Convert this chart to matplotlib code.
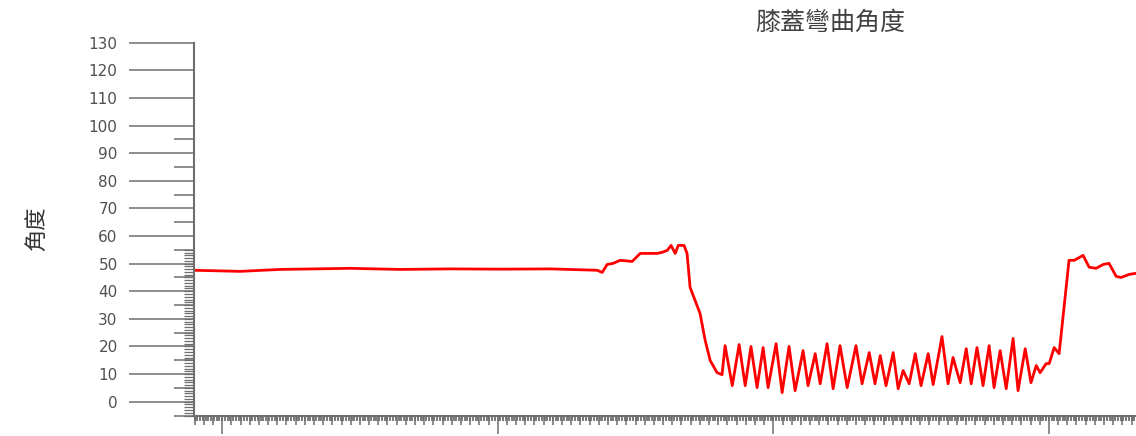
import matplotlib
matplotlib.use("Agg")
import matplotlib.pyplot as plt
from matplotlib.ticker import MultipleLocator, FixedLocator, NullFormatter

# knee angle trace: frame index vs. angle in degrees
frames = [89.8, 106.5, 121.0, 146.4, 164.6, 182.7, 200.9, 219.0, 236.1, 237.9,
          239.7, 241.9, 244.4, 248.8, 251.7, 254.2, 257.8, 259.7, 261.5, 262.9,
          264.4, 265.5, 267.6, 268.7, 269.8, 271.6, 273.4, 275.3, 277.1, 279.6,
          281.4, 282.5, 285.1, 287.6, 289.8, 291.9, 294.1, 296.3, 298.1, 301.0,
          303.2, 305.7, 307.9, 310.8, 312.6, 315.2, 317.0, 319.5, 321.7, 324.2,
          326.8, 330.0, 332.2, 334.8, 336.9, 338.8, 340.9, 343.5, 345.3, 347.1,
          349.3, 351.5, 353.6, 356.2, 358.0, 361.2, 363.4, 365.2, 367.8, 370.0,
          371.8, 373.9, 376.1, 378.3, 380.1, 382.3, 384.5, 387.0, 388.8, 391.4,
          393.5, 395.4, 396.8, 399.0, 400.1, 401.9, 403.7, 407.3, 409.2, 412.4,
          414.6, 417.1, 419.7, 421.8, 424.4, 426.2, 429.1, 431.6]
angles = [47.6, 47.2, 47.9, 48.3, 47.9, 48.1, 48.0, 48.1, 47.6, 46.8,
          49.7, 50.1, 51.2, 50.8, 53.7, 53.7, 53.7, 54.1, 54.8, 56.6,
          53.7, 56.6, 56.6, 53.7, 41.4, 36.7, 32.0, 22.1, 14.9, 10.5,
          9.8, 20.3, 5.8, 20.7, 5.8, 20.0, 5.1, 19.6, 5.1, 21.0,
          3.3, 20.0, 4.0, 18.5, 5.8, 17.4, 6.5, 21.0, 4.7, 20.3,
          5.1, 20.3, 6.5, 17.8, 6.5, 16.7, 5.8, 17.8, 4.7, 11.3,
          6.5, 17.4, 5.8, 17.4, 6.2, 23.6, 6.5, 16.0, 6.9, 19.2,
          6.5, 19.6, 5.8, 20.3, 5.1, 18.5, 4.7, 22.9, 4.0, 19.2,
          6.9, 13.1, 10.5, 13.8, 13.8, 19.6, 17.4, 51.2, 51.2, 53.0,
          48.7, 48.3, 49.7, 50.1, 45.4, 45.0, 46.1, 46.5]

title = "膝蓋彎曲角度"
ylabel = "角度"

cjk = ["Noto Sans CJK TC", "DejaVu Sans"]
axis_grey = "#6e6e6e"
label_grey = "#505050"

fig = plt.figure(figsize=(11.36, 4.36), dpi=100)
ax = fig.add_axes([0.1708, 0.047, 0.8292, 0.855])

ax.plot(frames, angles, color="#ff0000", lw=2.0, solid_joinstyle="round")

ax.set_xlim(89.8, 431.6)
ax.set_ylim(-5, 130)

for side in ("top", "right"):
    ax.spines[side].set_visible(False)
for side in ("left", "bottom"):
    ax.spines[side].set_color(axis_grey)
    ax.spines[side].set_linewidth(1.5)

# y: long ticks every 10, medium every 5 up to 95
ax.yaxis.set_major_locator(MultipleLocator(10))
ax.yaxis.set_minor_locator(FixedLocator(list(range(-5, 100, 10))))
ax.set_yticks(list(range(0, 131, 10)))
ax.tick_params(axis="y", which="major", length=47, width=1.1, color=axis_grey,
               pad=8, labelsize=11, labelcolor=label_grey)
ax.tick_params(axis="y", which="minor", length=14.5, width=1.1, color=axis_grey)

# x: long ticks every 100 frames, medium ticks in between
ax.xaxis.set_major_locator(MultipleLocator(100))
ax.xaxis.set_minor_locator(MultipleLocator(100 / 30))
ax.xaxis.set_major_formatter(NullFormatter())
ax.tick_params(axis="x", which="major", length=13, width=1.1, color=axis_grey)
ax.tick_params(axis="x", which="minor", length=6.5, width=1.1, color=axis_grey)

# extra fine ticks on both axes
fine_y = ax.secondary_yaxis("left")
fine_y.set_yticks(list(range(-5, 56)))
fine_y.yaxis.set_major_formatter(NullFormatter())
fine_y.spines["left"].set_visible(False)
fine_y.tick_params(axis="y", length=7, width=0.9, color=axis_grey)

fine_x = ax.secondary_xaxis("bottom")
fine_x.xaxis.set_major_locator(MultipleLocator(1))
fine_x.xaxis.set_major_formatter(NullFormatter())
fine_x.spines["bottom"].set_visible(False)
fine_x.tick_params(axis="x", length=3.5, width=1.3, color=axis_grey)

ax.set_ylabel(ylabel, family=cjk, fontsize=16, color="#333333")
ax.yaxis.set_label_coords(-0.155, 0.5)

ax.set_title(title, family=cjk, fontsize=18, color="#404040", x=0.675, pad=9)

fig.savefig("out.png", dpi=100)
